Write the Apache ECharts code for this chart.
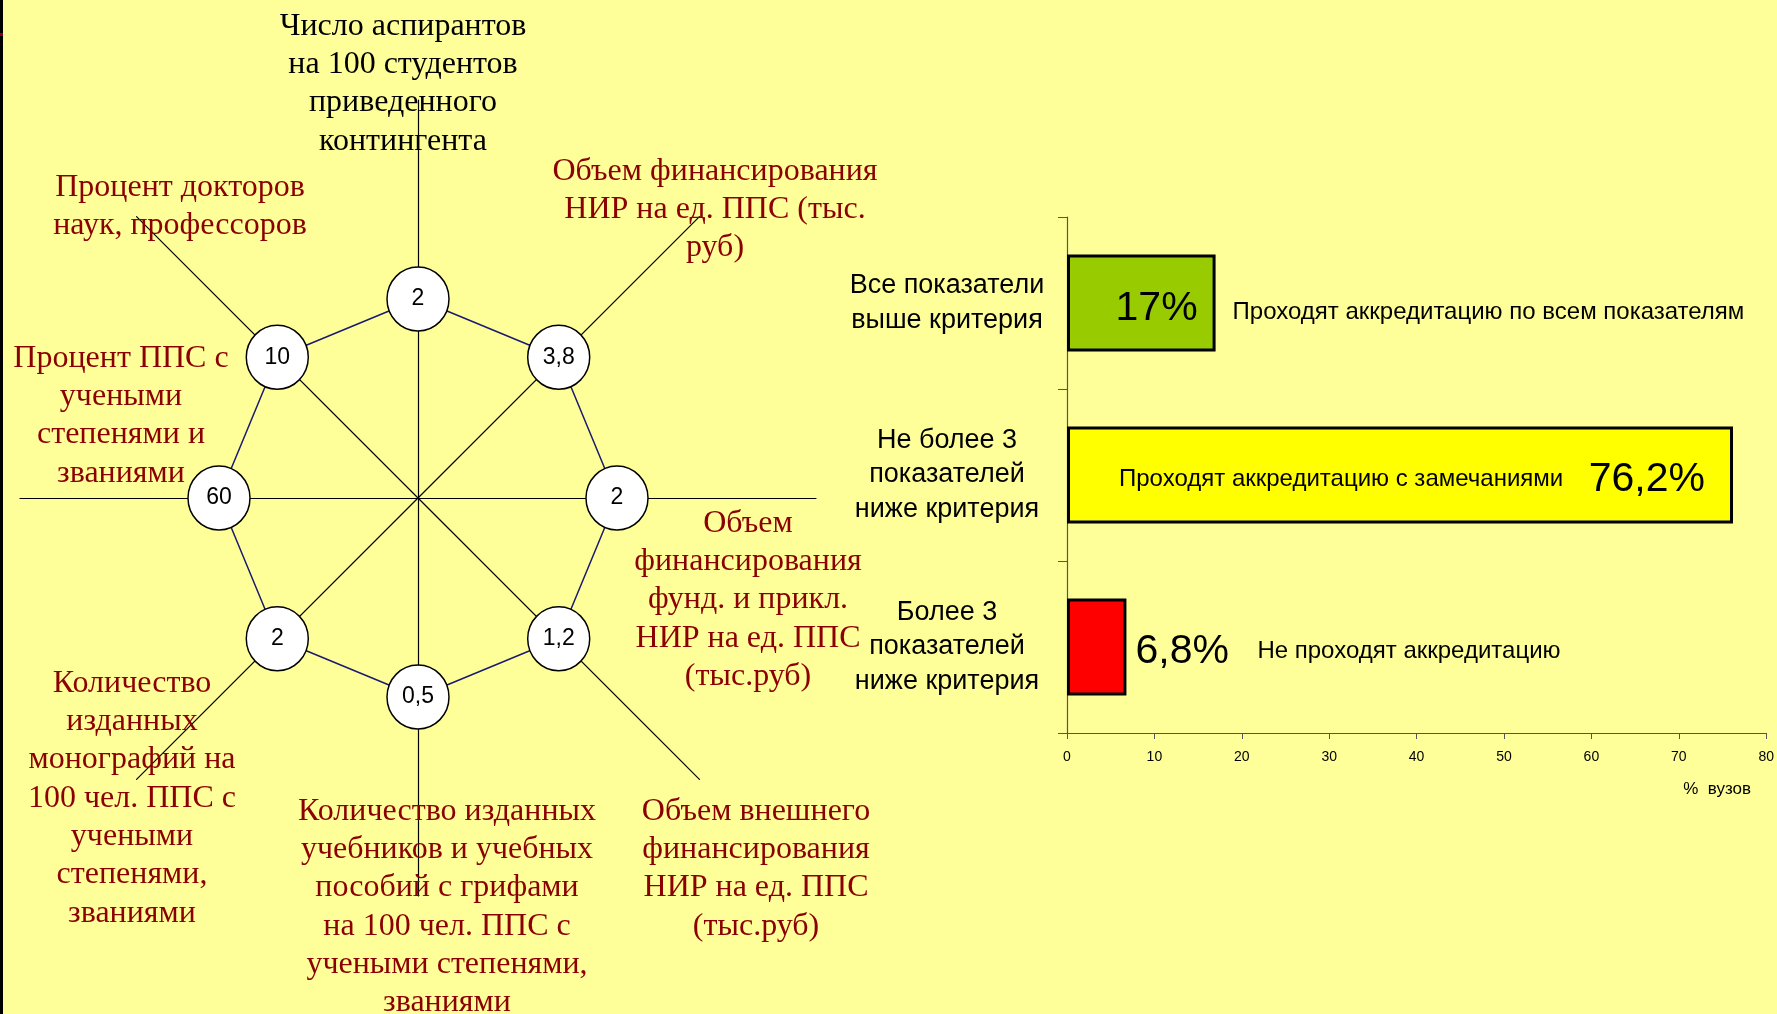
<!DOCTYPE html>
<html>
<head>
<meta charset="utf-8">
<style>
html,body{margin:0;padding:0;background:#FFFF99;}
#c{width:1777px;height:1014px;}
</style>
<script src="https://cdn.jsdelivr.net/npm/echarts@6/dist/echarts.min.js"></script>
</head>
<body>
<div id="c"></div>
<script>
// ---- data ----
// radar indicators, counter-clockwise from the top
const radarNames = [
  'Число аспирантов\nна 100 студентов\nприведенного\nконтингента',
  'Процент докторов\nнаук, профессоров',
  'Процент ППС с\nучеными\nстепенями и\nзваниями',
  'Количество\nизданных\nмонографий на\n100 чел. ППС с\nучеными\nстепенями,\nзваниями',
  'Количество изданных\nучебников и учебных\nпособий с грифами\nна 100 чел. ППС с\nучеными степенями,\nзваниями',
  'Объем внешнего\nфинансирования\nНИР на ед. ППС\n(тыс.руб)',
  'Объем\nфинансирования\nфунд. и прикл.\nНИР на ед. ППС\n(тыс.руб)',
  'Объем финансирования\nНИР на ед. ППС (тыс.\nруб)'
];
const radarValues = [2, 10, 60, 2, 0.5, 1.2, 2, 3.8];
const radarMax = [4, 20, 120, 4, 1, 2.4, 4, 7.6];

const barCategories = [
  'Все показатели\nвыше критерия',
  'Не более 3\nпоказателей\nниже критерия',
  'Более 3\nпоказателей\nниже критерия'
];
const barValues = [17, 76.2, 6.8];
const barNotes = [
  'Проходят аккредитацию по всем показателям',
  'Проходят аккредитацию с замечаниями',
  'Не проходят аккредитацию'
];
const xMin = 0, xMax = 80, xStep = 10;
const xName = '%  вузов';

// ---- styles / layout ----
const barColors = ['#99CC00', '#FFFF00', '#FF0000'];
const nameColors = ['#000000', '#8B0000', '#8B0000', '#8B0000', '#8B0000', '#8B0000', '#8B0000', '#8B0000'];
const namePos = [[403, 7], [180, 168], [121, 339], [132, 664], [447, 792], [756, 792], [748, 504], [715, 152]];
const valueLabelPos = [
  {position: 'insideRight', distance: 18, offset: [0, 6]},
  {position: 'insideRight', distance: 28, offset: [0, 5]},
  {position: 'right', distance: 9, offset: [0, 5]}
];
const noteLabelPos = [
  {position: 'right', distance: 17, offset: [0, 9]},
  {position: 'insideLeft', distance: 52, offset: [0, 4]},
  {position: 'right', distance: 131, offset: [0, 4]}
];
const fmt = v => String(v).replace('.', ',');

const chart = echarts.init(document.getElementById('c'), null, {renderer: 'canvas'});

const graphics = [
  {type: 'rect', left: 0, top: 0, shape: {width: 3, height: 1014}, style: {fill: '#000'}, z: 100},
  {type: 'rect', left: 0, top: 33, shape: {width: 3, height: 3}, style: {fill: '#8B0000'}, z: 101}
];
radarNames.forEach((n, i) => {
  graphics.push({
    type: 'text', z: 50,
    style: {
      text: n, x: namePos[i][0], y: namePos[i][1],
      align: 'center', verticalAlign: 'top',
      fontFamily: '"Liberation Serif", "Times New Roman", serif',
      fontSize: 32, lineHeight: 38.35, fill: nameColors[i]
    }
  });
});

const option = {
  backgroundColor: '#FFFF99',
  animation: false,
  graphic: graphics,
  radar: {
    center: [418, 498],
    radius: 398,
    startAngle: 90,
    shape: 'polygon',
    splitNumber: 1,
    indicator: radarNames.map((n, i) => ({name: n, max: radarMax[i], min: 0})),
    axisName: {show: false},
    axisLine: {lineStyle: {color: '#000', width: 1.2}},
    axisTick: {show: false},
    axisLabel: {show: false},
    splitLine: {show: false},
    splitArea: {show: false}
  },
  grid: {left: 1067, right: 10, top: 217, bottom: 281, containLabel: false},
  xAxis: {
    type: 'value', min: xMin, max: xMax, interval: xStep,
    name: xName, nameLocation: 'end', nameGap: -83,
    nameTextStyle: {fontFamily: '"Liberation Sans", Arial, sans-serif', fontSize: 17, color: '#000',
      verticalAlign: 'top', padding: [48, 0, 0, 0]},
    axisLine: {show: true, lineStyle: {color: '#555', width: 1.2}},
    axisTick: {show: true, length: 6, lineStyle: {color: '#555'}},
    axisLabel: {fontFamily: '"Liberation Sans", Arial, sans-serif', fontSize: 14, color: '#000', margin: 17},
    splitLine: {show: false}
  },
  yAxis: {
    type: 'category', inverse: true, data: barCategories,
    axisLine: {show: true, lineStyle: {color: '#555', width: 1.2}},
    axisTick: {show: true, length: 9, alignWithLabel: false, lineStyle: {color: '#555'}},
    axisLabel: {fontFamily: '"Liberation Sans", Arial, sans-serif', fontSize: 27, lineHeight: 34.5,
      color: '#000', align: 'center', margin: 120, padding: [11, 0, 0, 0]},
    splitLine: {show: false}
  },
  series: [
    {
      type: 'radar',
      silent: true,
      symbol: 'circle',
      symbolSize: [62, 64],
      lineStyle: {color: '#1a1a70', width: 1.5},
      itemStyle: {color: '#FFFFFF', borderColor: '#000', borderWidth: 1.5},
      label: {
        show: true, position: 'inside',
        formatter: p => fmt(p.value),
        fontFamily: '"Liberation Sans", Arial, sans-serif', fontSize: 23, color: '#000'
      },
      data: [{value: radarValues}]
    },
    {
      type: 'bar',
      silent: true,
      barWidth: 97,
      data: barValues.map((v, i) => ({
        value: v,
        itemStyle: {color: barColors[i], borderColor: '#000', borderWidth: 3},
        label: Object.assign({show: true}, valueLabelPos[i])
      })),
      label: {
        show: true,
        formatter: p => fmt(p.value) + '%',
        fontFamily: '"Liberation Sans", Arial, sans-serif', fontSize: 41, color: '#000'
      }
    },
    {
      type: 'bar',
      silent: true,
      barWidth: 97,
      barGap: '-100%',
      itemStyle: {color: 'rgba(0,0,0,0)'},
      data: barValues.map((v, i) => ({
        value: v,
        label: Object.assign({show: true, formatter: barNotes[i]}, noteLabelPos[i])
      })),
      label: {
        show: true,
        fontFamily: '"Liberation Sans", Arial, sans-serif', fontSize: 24, color: '#000'
      },
      z: 5
    }
  ]
};
chart.setOption(option);
</script>
</body>
</html>
